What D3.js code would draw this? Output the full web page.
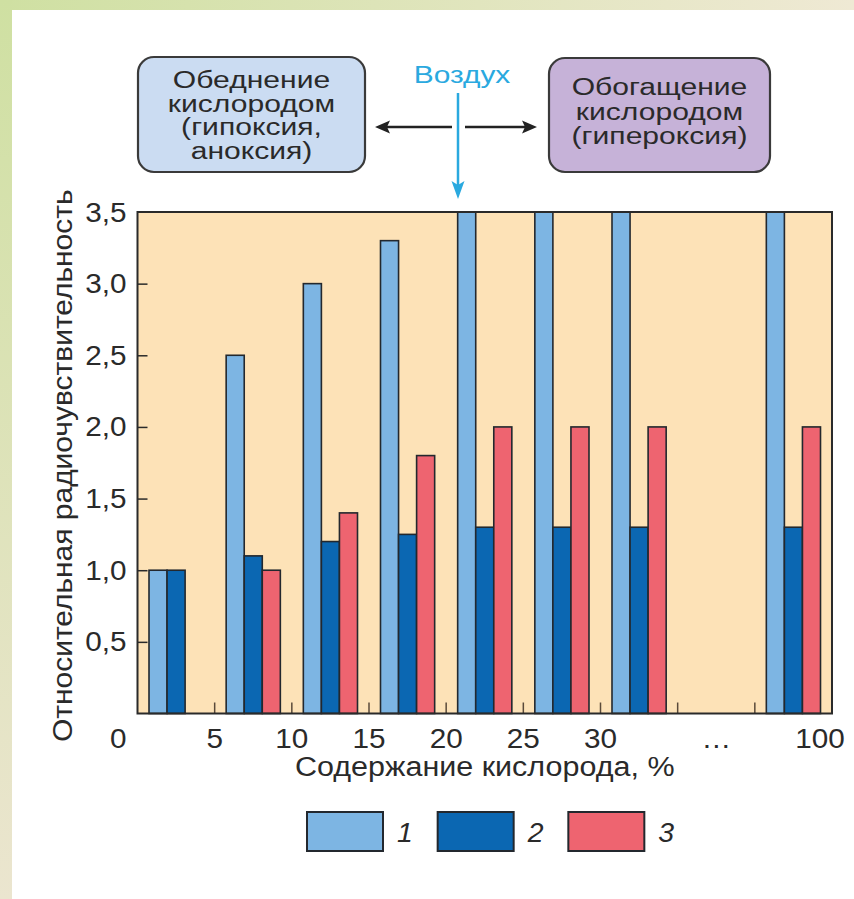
<!DOCTYPE html>
<html>
<head>
<meta charset="utf-8">
<script src="https://cdn.jsdelivr.net/npm/d3@7"></script>
<style>
  html, body { margin: 0; padding: 0; background: #ffffff; }
  svg { display: block; font-family: "Liberation Sans", Arial, sans-serif; }
</style>
</head>
<body>
<svg id="chart" width="854" height="899"></svg>
<script>
// ---- data ----
const categories = ["0-5", "5-10", "10-15", "15-20", "20-25", "25-30", "30-35", "...", "100"];
const series1 = [1.0, 2.5, 3.0, 3.3, 3.5, 3.5, 3.5, null, 3.5];
const series2 = [1.0, 1.1, 1.2, 1.25, 1.3, 1.3, 1.3, null, 1.3];
const series3 = [null, 1.0, 1.4, 1.8, 2.0, 2.0, 2.0, null, 2.0];
const seriesNames = ["1", "2", "3"];
const yTicks = [0.5, 1.0, 1.5, 2.0, 2.5, 3.0, 3.5];
const xTickLabels = ["0", "5", "10", "15", "20", "25", "30", "…", "100"];
const xTitle = "Содержание кислорода, %";
const yTitle = "Относительная радиочувствительность";
const leftBoxLines = ["Обеднение", "кислородом", "(гипоксия,", "аноксия)"];
const rightBoxLines = ["Обогащение", "кислородом", "(гипероксия)"];
const airLabel = "Воздух";

// ---- layout ----
const W = 854, H = 899;
const M = { left: 137.5, right: 832, top: 212, bottom: 713.5 };
const colors = ["#7db5e3", "#0b67b2", "#ee6470"];
const ink = "#2a2a2a";

const svg = d3.select("#chart");
const defs = svg.append("defs");

// background strips
const gTop = defs.append("linearGradient").attr("id", "gTop").attr("x1", 0).attr("x2", 1).attr("y1", 0).attr("y2", 0);
gTop.append("stop").attr("offset", 0).attr("stop-color", "#cfe0a2");
gTop.append("stop").attr("offset", 1).attr("stop-color", "#efe9d4");
const gLeft = defs.append("linearGradient").attr("id", "gLeft").attr("x1", 0).attr("x2", 0).attr("y1", 0).attr("y2", 1);
gLeft.append("stop").attr("offset", 0).attr("stop-color", "#cfe0a2");
gLeft.append("stop").attr("offset", 1).attr("stop-color", "#ebe5cf");
svg.append("rect").attr("x", 0).attr("y", 0).attr("width", W).attr("height", 10).attr("fill", "url(#gTop)");
svg.append("rect").attr("x", 0).attr("y", 0).attr("width", 12).attr("height", H).attr("fill", "url(#gLeft)");

function hText(parent, x, y, str, size, sx, anchor, extra) {
  const t = parent.append("text")
    .attr("transform", `translate(${x},${y}) scale(${sx},1)`)
    .attr("text-anchor", anchor || "middle")
    .attr("font-size", size)
    .attr("fill", ink)
    .text(str);
  if (extra) extra(t);
  return t;
}

// scales
const x = d3.scaleBand().domain(categories).range([M.left, M.right]).padding(0);
const bw = x.bandwidth();
const xs = d3.scaleBand().domain([0, 1, 2]).range([11.5, bw - 11.5]).padding(0);
const y = d3.scaleLinear().domain([0, 3.5]).range([M.bottom, M.top]);

// plot background
svg.append("rect")
  .attr("x", M.left).attr("y", M.top)
  .attr("width", M.right - M.left).attr("height", M.bottom - M.top)
  .attr("fill", "#fde2b7");

// bottom inward ticks at band boundaries
svg.append("g").selectAll("line")
  .data(categories.slice(1))
  .join("line")
  .attr("x1", d => x(d)).attr("x2", d => x(d))
  .attr("y1", M.bottom).attr("y2", M.bottom - 11)
  .attr("stroke", "#5a4a3a").attr("stroke-width", 1.5);

// y axis (inward ticks)
const yAxis = d3.axisLeft(y)
  .tickValues(yTicks.filter(v => v < 3.5))
  .tickSizeInner(-10).tickSizeOuter(0).tickPadding(10)
  .tickFormat(d => d3.format(".1f")(d).replace(".", ","));
const gy = svg.append("g").attr("transform", `translate(${M.left},0)`).call(yAxis);
gy.select(".domain").remove();
gy.selectAll(".tick line").attr("stroke", ink).attr("stroke-width", 1.5);
gy.selectAll(".tick text").remove();
// tick labels (including top 3,5)
const fmt = d => d3.format(".1f")(d).replace(".", ",");
yTicks.forEach(v => hText(svg, M.left - 11, y(v) + 9.5, fmt(v), 27, 1.1, "end"));

// bars
const series = [series1, series2, series3];
const barData = [];
categories.forEach((c, i) => series.forEach((s, k) => { if (s[i] != null) barData.push({ c, k, v: s[i] }); }));
svg.append("g").selectAll("rect")
  .data(barData)
  .join("rect")
  .attr("x", d => x(d.c) + xs(d.k))
  .attr("y", d => y(d.v))
  .attr("width", xs.bandwidth())
  .attr("height", d => y(0) - y(d.v))
  .attr("fill", d => colors[d.k])
  .attr("stroke", "#23282e").attr("stroke-width", 1.6);

// frame
svg.append("rect")
  .attr("x", M.left).attr("y", M.top)
  .attr("width", M.right - M.left).attr("height", M.bottom - M.top)
  .attr("fill", "none").attr("stroke", ink).attr("stroke-width", 2);

// x tick labels
const xLabY = 748;
xTickLabels.forEach((lab, i) => {
  let px, anchor = "middle";
  if (i === 0) { px = M.left - 11; anchor = "end"; }
  else if (i === 8) { px = M.right - 12; }
  else if (i === 7) { px = x(categories[i]) + bw / 2; }
  else { px = x(categories[i]); }
  hText(svg, px, xLabY, lab, 27, 1.1, anchor);
});

// axis titles
hText(svg, (M.left + M.right) / 2, 776, xTitle, 27, 1.13, "middle");
svg.append("text")
  .attr("transform", `translate(72,${(M.top + M.bottom) / 2 + 3}) rotate(-90) scale(1.11,1)`)
  .attr("text-anchor", "middle").attr("font-size", 27).attr("fill", ink)
  .text(yTitle);

// legend
const legX = d3.scaleBand().domain(seriesNames).range([307, 699]).padding(0);
const lg = svg.append("g");
seriesNames.forEach((n, k) => {
  const lx = legX(n);
  lg.append("rect").attr("x", lx).attr("y", 812).attr("width", 76).attr("height", 39)
    .attr("fill", colors[k]).attr("stroke", "#23282e").attr("stroke-width", 2);
  hText(lg, lx + 90, 842, n, 27, 1.05, "start", t => t.attr("font-style", "italic"));
});

// annotation boxes
const boxes = [
  { x0: 138, x1: 365, y0: 57, y1: 172, fill: "#cbdcf2", lines: leftBoxLines, base: 88, step: 23.5 },
  { x0: 549, x1: 770, y0: 58, y1: 172, fill: "#c6b2d8", lines: rightBoxLines, base: 95, step: 24.5 }
];
boxes.forEach(b => {
  svg.append("rect").attr("x", b.x0).attr("y", b.y0)
    .attr("width", b.x1 - b.x0).attr("height", b.y1 - b.y0)
    .attr("rx", 16).attr("ry", 16)
    .attr("fill", b.fill).attr("stroke", "#3a3a3a").attr("stroke-width", 2.2);
  b.lines.forEach((ln, i) => hText(svg, (b.x0 + b.x1) / 2, b.base + i * b.step, ln, 23.5, 1.28, "middle"));
});

// horizontal double arrow
const ay = 127;
svg.append("line").attr("x1", 385).attr("x2", 452).attr("y1", ay).attr("y2", ay).attr("stroke", "#222").attr("stroke-width", 2.5);
svg.append("line").attr("x1", 465).attr("x2", 527).attr("y1", ay).attr("y2", ay).attr("stroke", "#222").attr("stroke-width", 2.5);
svg.append("path").attr("d", `M375,${ay} L390,${ay - 6.5} L387,${ay} L390,${ay + 6.5} Z`).attr("fill", "#222");
svg.append("path").attr("d", `M537,${ay} L522,${ay - 6.5} L525,${ay} L522,${ay + 6.5} Z`).attr("fill", "#222");

// "Воздух" label & arrow
const air = "#2aa9df";
hText(svg, 462, 83, airLabel, 23, 1.3, "middle", t => t.attr("fill", air));
svg.append("line").attr("x1", 458).attr("x2", 458).attr("y1", 93).attr("y2", 186).attr("stroke", air).attr("stroke-width", 2.5);
svg.append("path").attr("d", `M458,199 L451.5,181 L458,185 L464.5,181 Z`).attr("fill", air);
</script>
</body>
</html>
